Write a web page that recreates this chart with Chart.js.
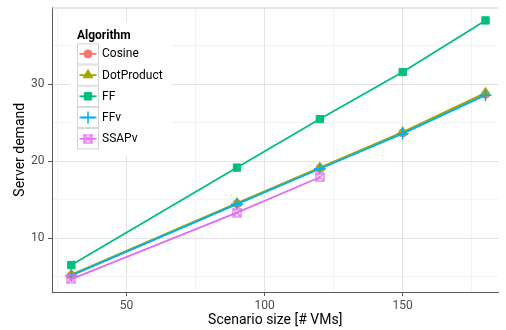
<!DOCTYPE html>
<html>
<head>
<meta charset="utf-8">
<script src="https://cdn.jsdelivr.net/npm/chart.js@4/dist/chart.umd.min.js"></script>
<style>
  html, body { margin: 0; padding: 0; background: #fff; }
  #wrap { width: 506px; height: 330px; }
</style>
</head>
<body>
<div id="wrap"><canvas id="c" width="506" height="330"></canvas></div>
<script>
// Scenario sizes (number of VMs) and server demand per algorithm
const scenarioSizes = [30, 90, 120, 150, 180];
const ssapvSizes = [30, 90, 120];
const cosine = [5.2, 14.5, 19.1, 23.7, 28.7];
const dotProduct = [5.3, 14.6, 19.2, 23.8, 28.9];
const ff = [6.55, 19.2, 25.5, 31.6, 38.3];
const ffv = [5.2, 14.45, 19.05, 23.6, 28.6];
const ssapv = [4.72, 13.35, 17.95];

const xMajorTicks = [50, 100, 150];
const yMajorTicks = [10, 20, 30];

const FONT = 'Roboto, "Liberation Sans", Arial, sans-serif';

// Boxed-cross marker (square with an X inside)
function boxTimes(color, size) {
  const c = document.createElement('canvas');
  c.width = size; c.height = size;
  const g = c.getContext('2d');
  g.strokeStyle = color;
  g.lineWidth = 1.2;
  const a = 1, b = size - 1;
  g.strokeRect(a, a, b - a, b - a);
  g.beginPath();
  g.moveTo(a, a); g.lineTo(b, b);
  g.moveTo(b, a); g.lineTo(a, b);
  g.stroke();
  return c;
}

function pts(xs, ys) { return xs.map((x, i) => ({ x: x, y: ys[i] })); }

const ssapvMarker = boxTimes('#E76BF3', 10);

const datasets = [
  { label: 'Cosine', data: pts(scenarioSizes, cosine), borderColor: '#F8766D', backgroundColor: '#F8766D',
    pointStyle: 'circle', pointRadius: 4 },
  { label: 'DotProduct', data: pts(scenarioSizes, dotProduct), borderColor: '#A3A500', backgroundColor: '#A3A500',
    pointStyle: 'triangle', pointRadius: 5.5 },
  { label: 'FF', data: pts(scenarioSizes, ff), borderColor: '#00BF7D', backgroundColor: '#00BF7D',
    pointStyle: 'rect', pointRadius: 5.2 },
  { label: 'FFv', data: pts(scenarioSizes, ffv), borderColor: '#00B0F6', backgroundColor: '#00B0F6',
    pointStyle: 'cross', pointRadius: 6, pointBorderWidth: 1.5 },
  { label: 'SSAPv', data: pts(ssapvSizes, ssapv), borderColor: '#E76BF3', backgroundColor: '#E76BF3',
    pointStyle: ssapvMarker, pointRadius: 5 }
];
datasets.forEach((d, i) => {
  d.borderWidth = 1.8;
  d.fill = false;
  d.tension = 0;
  // later series are painted on top of earlier ones
  d.order = datasets.length - 1 - i;
  if (d.pointBorderWidth === undefined) d.pointBorderWidth = 1;
  d.pointBorderColor = d.borderColor;
  d.pointBackgroundColor = d.backgroundColor;
});

// Legend box with title and keys (line + marker)
const keyLegend = {
  id: 'keyLegend',
  afterDraw(chart) {
    const ctx = chart.ctx;
    const x0 = 77, keyW = 22, keyH = 21.2, top = 43.3;
    ctx.save();
    ctx.fillStyle = '#ffffff';
    ctx.fillRect(70, 22, 101, 134);
    ctx.fillStyle = '#000';
    ctx.font = 'bold 12px ' + FONT;
    ctx.textBaseline = 'middle';
    ctx.textAlign = 'left';
    ctx.fillText('Algorithm', x0, 35.5);
    chart.data.datasets.forEach((d, i) => {
      const y = top + i * keyH;
      ctx.fillStyle = '#ffffff';
      ctx.fillRect(x0, y, keyW, keyH);
      ctx.strokeStyle = '#d4d4d4';
      ctx.lineWidth = 1;
      ctx.strokeRect(x0 + 0.5, y + 0.5, keyW - 1, keyH - 1);
      const cx = x0 + keyW / 2, cy = y + keyH / 2;
      ctx.strokeStyle = d.borderColor;
      ctx.lineWidth = d.borderWidth;
      ctx.beginPath();
      ctx.moveTo(x0 + 2.5, cy);
      ctx.lineTo(x0 + keyW - 2.5, cy);
      ctx.stroke();
      ctx.fillStyle = d.backgroundColor;
      ctx.lineWidth = d.pointBorderWidth;
      Chart.helpers.drawPoint(ctx, {
        pointStyle: d.pointStyle, radius: d.pointRadius, rotation: 0, borderWidth: d.pointBorderWidth
      }, cx, cy);
      ctx.fillStyle = '#000';
      ctx.font = '12px ' + FONT;
      ctx.fillText(d.label, x0 + keyW + 3, cy + 0.5);
    });
    ctx.restore();
  }
};

// Thin panel border along the top of the plot area
const topBorder = {
  id: 'topBorder',
  beforeDatasetsDraw(chart) {
    const { ctx, chartArea } = chart;
    ctx.save();
    ctx.strokeStyle = '#cfcfcf';
    ctx.lineWidth = 1;
    ctx.beginPath();
    ctx.moveTo(chartArea.left, chartArea.top + 0.5);
    ctx.lineTo(chartArea.right, chartArea.top + 0.5);
    ctx.stroke();
    ctx.restore();
  }
};

new Chart(document.getElementById('c'), {
  type: 'line',
  data: { datasets: datasets },
  plugins: [topBorder, keyLegend],
  options: {
    responsive: false,
    animation: false,
    events: [],
    layout: { padding: { top: 3, right: 0, bottom: 0, left: 0 } },
    plugins: { legend: { display: false }, tooltip: { enabled: false } },
    scales: {
      x: {
        type: 'linear',
        min: 23,
        max: 184.7,
        afterFit(s) { s.height = 38; s.paddingLeft = 0; s.paddingRight = 0; },
        border: { color: '#5a5a5a', width: 1 },
        grid: {
          color: c => xMajorTicks.includes(c.tick.value) ? '#e3e3e3' : '#f3f3f3',
          tickColor: c => xMajorTicks.includes(c.tick.value) ? '#5a5a5a' : 'rgba(0,0,0,0)',
          tickLength: 4,
          lineWidth: 1
        },
        ticks: {
          stepSize: 25,
          includeBounds: false,
          autoSkip: false,
          maxRotation: 0,
          padding: 3,
          color: '#4d4d4d',
          font: { family: FONT, size: 12 },
          callback: v => xMajorTicks.includes(v) ? String(v) : ''
        },
        title: {
          display: true,
          text: 'Scenario size [# VMs]',
          color: '#000',
          font: { family: FONT, size: 14 },
          padding: { top: 0, bottom: 1.6 }
        }
      },
      y: {
        type: 'linear',
        min: 3.05,
        max: 39.98,
        afterFit(s) { s.width = 52; s.paddingTop = 0; s.paddingBottom = 0; },
        border: { color: '#5a5a5a', width: 1 },
        grid: {
          color: c => yMajorTicks.includes(c.tick.value) ? '#e3e3e3' : '#f3f3f3',
          tickColor: c => yMajorTicks.includes(c.tick.value) ? '#5a5a5a' : 'rgba(0,0,0,0)',
          tickLength: 4,
          lineWidth: 1
        },
        ticks: {
          stepSize: 5,
          includeBounds: false,
          autoSkip: false,
          padding: 3.5,
          color: '#4d4d4d',
          font: { family: FONT, size: 12 },
          callback: v => yMajorTicks.includes(v) ? String(v) : ''
        },
        title: {
          display: true,
          text: 'Server demand',
          color: '#000',
          font: { family: FONT, size: 14 },
          padding: { top: 11.6, bottom: 0 }
        }
      }
    }
  }
});
</script>
</body>
</html>
